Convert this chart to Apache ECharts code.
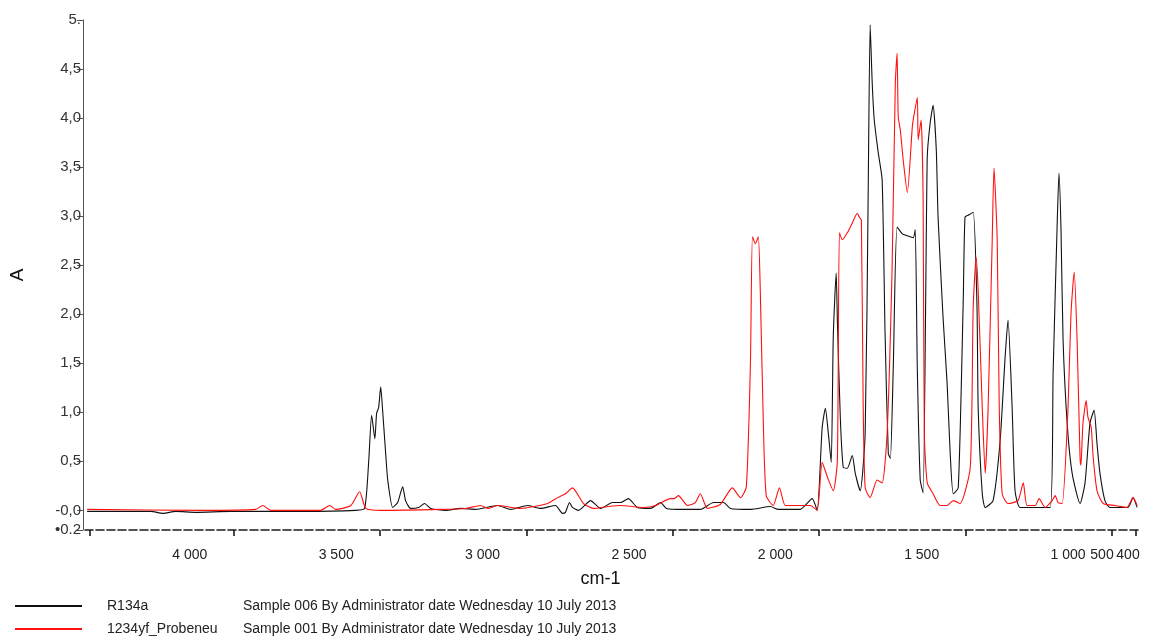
<!DOCTYPE html>
<html>
<head>
<meta charset="utf-8">
<title>IR spectra R134a / 1234yf</title>
<script src="https://cdn.jsdelivr.net/npm/echarts@6/dist/echarts.min.js"></script>
<style>
  html, body { margin: 0; padding: 0; background: #fff; }
  #chart { width: 1154px; height: 639px; }
</style>
</head>
<body>
<div id="chart"></div>
<script>
// Spectrum R134a: wavenumber (cm-1) and absorbance (A)
const r134aWavenumber = [4351, 4133, 4092, 4048, 3979, 3860, 3621, 3433, 3403, 3389, 3379, 3368, 3362, 3355, 3348, 3341, 3331, 3324, 3307, 3290, 3273, 3263, 3246, 3218, 3198, 3177, 3126, 3075, 3024, 2949, 2904, 2846, 2802, 2751, 2727, 2717, 2703, 2693, 2672, 2631, 2597, 2556, 2529, 2502, 2471, 2426, 2392, 2372, 2314, 2256, 2211, 2177, 2153, 2085, 2017, 1990, 1915, 1874, 1857, 1840, 1829, 1819, 1809, 1802, 1792, 1788, 1778, 1768, 1754, 1737, 1727, 1710, 1693, 1683, 1676, 1669, 1662, 1648, 1635, 1625, 1614, 1607, 1597, 1584, 1566, 1549, 1529, 1522, 1515, 1505, 1495, 1481, 1471, 1461, 1450, 1444, 1427, 1413, 1403, 1392, 1375, 1358, 1352, 1341, 1324, 1311, 1307, 1293, 1283, 1256, 1232, 1215, 1205, 1191, 1181, 1164, 1112, 1061, 1051, 1037, 1031, 1024, 1017, 1003, 986, 959, 942, 925, 911, 901, 891, 874, 857, 795, 778, 764];
const r134aAbsorbance = [-0.01, -0.01, -0.03, -0.01, -0.02, -0.01, -0.01, 0.0, 0.02, 0.5, 0.97, 0.73, 0.99, 1.05, 1.26, 1.0, 0.58, 0.31, 0.03, 0.08, 0.24, 0.1, 0.02, 0.03, 0.07, 0.02, 0.0, 0.02, 0.01, 0.05, 0.01, 0.05, 0.02, 0.05, -0.03, -0.02, 0.08, 0.03, 0.0, 0.1, 0.02, 0.08, 0.08, 0.12, 0.03, 0.02, 0.08, 0.02, 0.01, 0.01, 0.08, 0.08, 0.02, 0.01, 0.04, 0.01, 0.01, 0.12, 0.0, 0.84, 1.04, 0.79, 0.49, 1.77, 2.42, 1.94, 0.95, 0.44, 0.43, 0.56, 0.38, 0.2, 0.79, 3.16, 4.95, 4.36, 3.98, 3.64, 3.37, 1.8, 0.58, 0.53, 1.46, 2.89, 2.82, 2.8, 2.78, 2.86, 1.46, 0.31, 0.18, 3.6, 3.95, 4.13, 3.67, 2.99, 1.97, 1.29, 0.61, 0.17, 0.23, 2.14, 2.99, 3.01, 3.04, 2.08, 1.05, 0.17, 0.03, 0.1, 0.71, 1.56, 1.94, 1.05, 0.2, 0.03, 0.03, 0.03, 1.4, 2.93, 3.44, 2.86, 1.74, 0.89, 0.38, 0.07, 0.28, 0.89, 1.02, 0.68, 0.38, 0.1, 0.03, 0.03, 0.13, 0.03];

// Spectrum 1234yf_Probeneu: wavenumber (cm-1) and absorbance (A)
const yfWavenumber = [4351, 3962, 3775, 3751, 3723, 3553, 3522, 3502, 3450, 3420, 3399, 3348, 3143, 3058, 3007, 2980, 2949, 2870, 2778, 2744, 2717, 2693, 2655, 2621, 2570, 2529, 2450, 2409, 2358, 2345, 2331, 2300, 2273, 2256, 2232, 2188, 2147, 2119, 2099, 2085, 2078, 2068, 2058, 2051, 2041, 2031, 2007, 1986, 1966, 1925, 1880, 1857, 1840, 1822, 1802, 1788, 1781, 1771, 1754, 1737, 1720, 1713, 1706, 1700, 1693, 1676, 1652, 1635, 1618, 1601, 1590, 1584, 1580, 1573, 1563, 1549, 1532, 1529, 1515, 1512, 1502, 1495, 1491, 1481, 1461, 1437, 1413, 1392, 1369, 1334, 1324, 1314, 1307, 1293, 1283, 1273, 1259, 1253, 1242, 1235, 1225, 1205, 1171, 1153, 1140, 1112, 1099, 1078, 1054, 1044, 1034, 1020, 1000, 990, 979, 969, 959, 956, 949, 938, 932, 921, 914, 901, 880, 840, 799, 778, 764];
const yfAbsorbance = [0.01, 0.0, 0.01, 0.05, 0.0, 0.0, 0.05, 0.01, 0.05, 0.19, 0.02, 0.0, 0.01, 0.02, 0.05, 0.02, 0.05, 0.02, 0.07, 0.13, 0.17, 0.23, 0.07, 0.02, 0.04, 0.05, 0.03, 0.05, 0.12, 0.12, 0.15, 0.05, 0.08, 0.17, 0.02, 0.06, 0.23, 0.13, 0.24, 1.5, 2.79, 2.72, 2.79, 2.2, 0.9, 0.15, 0.05, 0.23, 0.05, 0.05, 0.05, 0.0, 0.49, 0.34, 0.2, 0.51, 2.83, 2.76, 2.83, 2.93, 3.03, 2.99, 2.96, 1.12, 0.23, 0.13, 0.31, 0.28, 0.79, 2.48, 4.36, 4.66, 4.01, 3.88, 3.57, 3.24, 3.91, 3.98, 4.21, 3.78, 3.98, 3.16, 0.79, 0.28, 0.17, 0.05, 0.05, 0.1, 0.07, 0.44, 2.07, 2.58, 2.24, 1.05, 0.38, 1.05, 2.76, 3.49, 2.76, 1.05, 0.17, 0.07, 0.1, 0.28, 0.05, 0.05, 0.12, 0.03, 0.1, 0.15, 0.08, 0.07, 1.05, 2.0, 2.43, 1.73, 0.54, 0.46, 0.89, 1.12, 0.95, 0.85, 0.54, 0.2, 0.07, 0.05, 0.03, 0.13, 0.05];

// Series names and their sample descriptions
const seriesNames = ['R134a', '1234yf_Probeneu'];
const sampleInfo = [
  'Sample 006 By Administrator date Wednesday 10 July 2013',
  'Sample 001 By Administrator date Wednesday 10 July 2013'
];

// Axis ticks
const xTickValues = [4000, 3500, 3000, 2500, 2000, 1500, 1000];
const xTrailingLabels = ['500', '400'];
const xMarkValues = [4341, 3850, 3350, 2850, 2350, 1850, 1350, 850, 768];
const yTickValues = [-0.2, 0, 0.5, 1, 1.5, 2, 2.5, 3, 3.5, 4, 4.5, 5];

const FONT = '"Liberation Sans", Arial, sans-serif';

function pairs(xs, ys) { return xs.map((x, i) => [x, ys[i]]); }

function fmtWavenumber(v) {
  const s = String(v);
  return s.length > 3 ? s.slice(0, s.length - 3) + ' ' + s.slice(-3) : s;
}

function fmtAbsorbance(v) {
  if (Math.abs(v - 5) < 1e-9) return '5.';
  if (Math.abs(v) < 1e-9) return '-0,0';
  if (Math.abs(v + 0.2) < 1e-9) return '\u20220.2';
  return v.toFixed(1).replace('.', ',');
}

const infoByName = {};
seriesNames.forEach((n, i) => { infoByName[n] = sampleInfo[i]; });

// One legend row per spectrum, stacked below the axis title
function legendRow(name, top) {
  return {
    data: [name],
    orient: 'horizontal',
    left: 10,
    top: top,
    icon: 'rect',
    itemWidth: 67,
    itemHeight: 2,
    selectedMode: false,
    formatter: n => '{n|' + n + '}{d|' + infoByName[n] + '}',
    textStyle: {
      fontFamily: FONT,
      fontSize: 14,
      color: '#222',
      rich: {
        n: { width: 136, padding: [0, 0, 0, 20], fontSize: 14, fontFamily: FONT, color: '#222' },
        d: { fontSize: 14, fontFamily: FONT, color: '#222' }
      }
    }
  };
}

const chart = echarts.init(document.getElementById('chart'), null, { renderer: 'canvas' });

chart.setOption({
  animation: false,
  backgroundColor: '#ffffff',
  textStyle: { fontFamily: FONT },
  grid: { left: 82, right: 16, top: 20, bottom: 109 },
  xAxis: {
    type: 'value',
    inverse: true,
    min: 761,
    max: 4365,
    name: 'cm-1',
    nameLocation: 'middle',
    nameGap: 40,
    nameTextStyle: { fontSize: 18, color: '#111', fontFamily: FONT, padding: [0, 20, 0, 0] },
    axisLine: { show: true, onZero: false, lineStyle: { color: '#1a1a1a', width: 1.6, type: [8, 3] } },
    axisTick: { show: true, customValues: xMarkValues, length: 6, lineStyle: { color: '#1a1a1a', width: 1.6 } },
    axisLabel: {
      customValues: xTickValues,
      formatter: fmtWavenumber,
      margin: 18,
      fontSize: 14,
      color: '#222',
      fontFamily: FONT
    },
    splitLine: { show: false }
  },
  yAxis: {
    type: 'value',
    min: -0.2,
    max: 5,
    name: 'A',
    nameLocation: 'middle',
    nameGap: 56,
    nameRotate: 90,
    nameTextStyle: { fontSize: 19, color: '#111', fontFamily: FONT },
    axisLine: { show: true, lineStyle: { color: '#555', width: 1 } },
    axisTick: { show: true, customValues: yTickValues, length: 6, lineStyle: { color: '#555' } },
    axisLabel: {
      customValues: yTickValues,
      formatter: fmtAbsorbance,
      margin: 2,
      fontSize: 15,
      color: '#333',
      fontFamily: FONT
    },
    splitLine: { show: false }
  },
  legend: [legendRow(seriesNames[0], 594), legendRow(seriesNames[1], 617)],
  graphic: xTrailingLabels.map((t, i) => ({
    type: 'text',
    x: [1102, 1128][i],
    y: 555,
    style: {
      text: t,
      fontSize: 14,
      fontFamily: FONT,
      fill: '#222',
      align: 'center',
      verticalAlign: 'middle'
    }
  })),
  series: [
    {
      name: seriesNames[0],
      type: 'line',
      data: pairs(r134aWavenumber, r134aAbsorbance),
      showSymbol: false,
      smooth: 0.2,
      color: '#111111',
      lineStyle: { color: '#111111', width: 1.1 },
      z: 2
    },
    {
      name: seriesNames[1],
      type: 'line',
      data: pairs(yfWavenumber, yfAbsorbance),
      showSymbol: false,
      smooth: 0.2,
      color: '#ff1010',
      lineStyle: { color: '#ff1010', width: 1.1 },
      z: 3
    }
  ]
});
</script>
</body>
</html>
